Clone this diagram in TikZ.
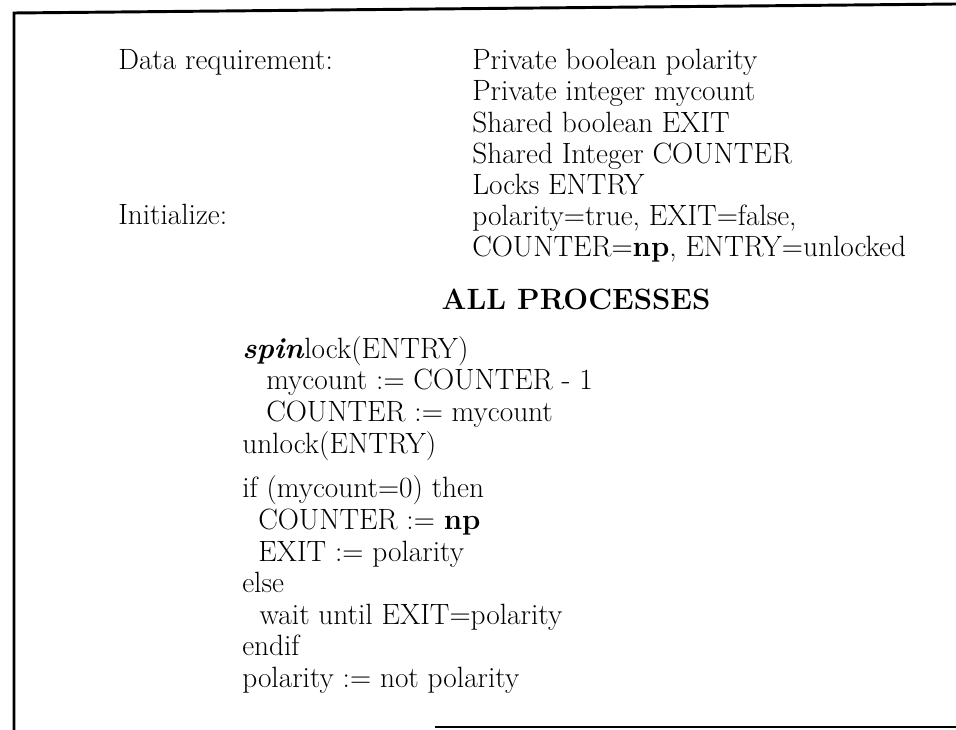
\documentclass[tikz,border=0pt]{standalone}
\begin{document}
\begin{tikzpicture}[x=0.75pt,y=-0.75pt]
  \tikzset{
    txt/.style={inner sep=0pt, font=\fontsize{22}{23.4}\selectfont},
    col/.style={txt, anchor=north west, align=left},
  }
  \def\ind{\hspace*{18pt}}
  \useasboundingbox (0,0) rectangle (956,730);
  % frame, open at the right and on the lower left
  \draw[line width=2.2pt] (14,730) -- (14,13) -- (956,4);
  \draw[line width=2.2pt] (435,727) -- (956,727);
  \node[txt, anchor=base west] (datareq) at (118,70) {Data requirement:};
  \node[txt, anchor=base west] (init) at (118,225) {Initialize:};
  \node[col] (decls) at (472,49) {Private boolean polarity\\
    Private integer mycount\\
    Shared boolean EXIT\\
    Shared Integer COUNTER\\
    Locks ENTRY\\
    polarity=true, EXIT=false,\\
    COUNTER=\textbf{np}, ENTRY=unlocked};
  \node[txt, anchor=base, font=\fontsize{22}{23.4}\selectfont\bfseries] (title) at (576,310) {ALL PROCESSES};
  \node[col, font=\fontsize{22}{23.7}\selectfont] (code) at (242,336) {\textbf{\textit{spin}}lock(ENTRY)\\
    \ind mycount := COUNTER - 1\\
    \ind COUNTER := mycount\\
    unlock(ENTRY)\\[10pt]
    if (mycount=0) then\\
    \hspace*{12pt}COUNTER := \textbf{np}\\
    \hspace*{12pt}EXIT := polarity\\
    else\\
    \hspace*{13pt}wait until EXIT=polarity\\
    endif\\
    polarity := not polarity};
\end{tikzpicture}
\end{document}
